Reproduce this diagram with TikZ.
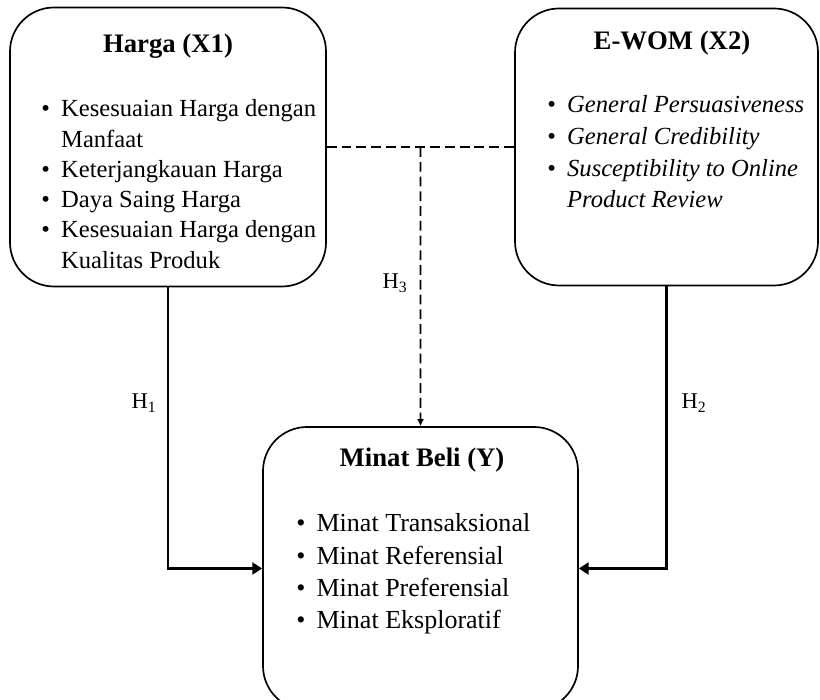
\documentclass[tikz,border=0pt]{standalone}
\usepackage{fontspec}
\setmainfont{Liberation Serif}
\usetikzlibrary{calc,arrows.meta,positioning}
\tikzset{
    varbox/.style = {draw, rounded corners=1.1cm, line width=1.2pt, inner sep=0pt},
    boxtitle/.style = {anchor=base, inner sep=0pt, font=\fontsize{19}{23}\selectfont\bfseries},
    items/.style = {anchor=base west, inner sep=0pt, font=\fontsize{17.5}{21.5}\selectfont},
    hlabel/.style = {font=\fontsize{16}{19}\selectfont},
    arrow/.style = {draw, line width=2pt, -{Triangle[length=7pt,width=8.5pt]}},
    darrow/.style = {draw, line width=1.3pt, dash pattern=on 7pt off 3.5pt}
}
\newcommand{\bul}{\textbullet}
\begin{document}
\begin{tikzpicture}
    \useasboundingbox (0,0) rectangle (20.5,17.5);
    \node[varbox, minimum width=7.9cm, minimum height=6.975cm] (x1) at (4.2,13.825) {};
    \node[varbox, minimum width=7.575cm, minimum height=6.925cm] (x2) at (16.6625,13.825) {};
    \node[varbox, minimum width=7.875cm, minimum height=7.075cm] (y) at (10.5125,3.2875) {};
    \node[boxtitle] (x1t) at (4.2,16.175) {Harga (X1)};
    \node[boxtitle] (x2t) at (16.8,16.25) {E-WOM (X2)};
    \node[boxtitle] (yt) at (10.55,5.825) {Minat Beli (Y)};
    \node[items] (x1i) at (1.025,14.575) {\begin{tabular}[t]{@{}l@{\hspace{8pt}}l@{}}
        \bul & Kesesuaian Harga dengan\\
             & Manfaat\\
        \bul & Keterjangkauan Harga\\
        \bul & Daya Saing Harga\\
        \bul & Kesesuaian Harga dengan\\
             & Kualitas Produk
    \end{tabular}};
    \node[items, font=\fontsize{17.5}{22.5}\selectfont\itshape] (x2i) at (13.675,14.675) {\begin{tabular}[t]{@{}l@{\hspace{8pt}}l@{}}
        \upshape\bul & General Persuasiveness\\
        \upshape\bul & General Credibility\\
        \upshape\bul & Susceptibility to Online\\
                     & Product Review
    \end{tabular}};
    \node[items, font=\fontsize{18.5}{23}\selectfont] (yi) at (7.4,4.2) {\begin{tabular}[t]{@{}l@{\hspace{8pt}}l@{}}
        \bul & Minat Transaksional\\
        \bul & Minat Referensial\\
        \bul & Minat Preferensial\\
        \bul & Minat Eksploratif
    \end{tabular}};
    \coordinate (mid) at ($(x1.east)!.5!(x2.west)$);
    \draw [darrow] (x1.east) -- (x2.west);
    \draw [darrow, -{Latex[length=5pt,width=5pt]}] (mid) -- (y.north);
    \draw [arrow] (x1.south) |- (y.west);
    \draw [arrow] (x2.south) |- (y.east);
    \node[hlabel] (h1) at (3.6,7.425) {H\textsubscript{1}};
    \node[hlabel] (h2) at (17.35,7.425) {H\textsubscript{2}};
    \node[hlabel] (h3) at (9.875,10.425) {H\textsubscript{3}};
\end{tikzpicture}
\end{document}
